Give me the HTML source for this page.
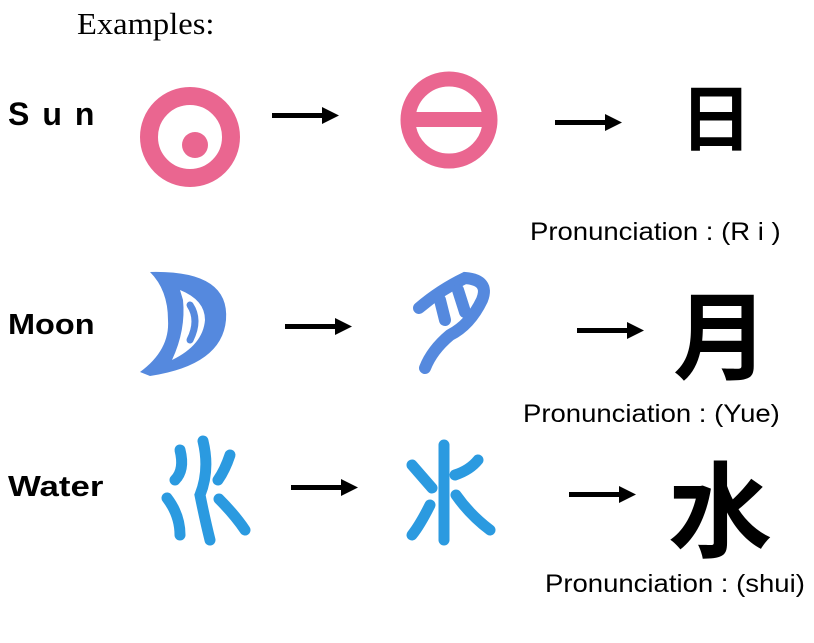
<!DOCTYPE html>
<html><head><meta charset="utf-8"><style>
html,body{margin:0;padding:0;background:#fff;}
body{width:814px;height:643px;position:relative;overflow:hidden;}
.t{position:absolute;white-space:nowrap;line-height:1;transform-origin:left top;}
.lab{font-family:"Liberation Sans",sans-serif;font-weight:bold;color:#000;}
.pr{font-family:"Liberation Sans",sans-serif;font-size:25px;color:#000;transform:scaleX(1.1);}
.cj{font-family:"Noto Sans CJK SC","Noto Serif CJK SC",sans-serif;font-weight:bold;color:#000;}
</style></head><body>
<div class="t" style="left:77px;top:8px;font-family:'Liberation Serif',serif;font-size:31px;transform:scaleX(1.05);">Examples:</div>
<div class="t lab" style="left:8px;top:98px;font-size:32px;letter-spacing:13px;">Sun</div>
<div class="t lab" style="left:8px;top:311px;font-size:29px;transform:scaleX(1.12);">Moon</div>
<div class="t lab" style="left:8px;top:473px;font-size:29px;transform:scaleX(1.2);">Water</div>
<svg width="814" height="643" style="position:absolute;left:0;top:0">
<g fill="none" stroke="#ea6690">
<circle cx="190" cy="137" r="41" stroke-width="18"/>
<circle cx="449" cy="120" r="41" stroke-width="15"/>
</g>
<circle cx="195" cy="145" r="13" fill="#ea6690"/>
<rect x="405" y="112" width="88" height="15" fill="#ea6690"/>
<path d="M150 272 Q230 270 226 320 Q222 365 150 376 L140 372 Q170 350 168 320 Q168 290 150 272 Z M180 290 Q205 300 205 320 Q203 345 172 360 Q186 330 183 300 Z" fill="#5589de" fill-rule="evenodd"/>
<path d="M190 305 Q200 320 190 340" stroke="#5589de" stroke-width="7" fill="none" stroke-linecap="round"/>
<g stroke="#5589de" stroke-width="12" fill="none" stroke-linecap="round">
<path d="M419 308 Q440 290 465 278 Q490 280 482 300 Q470 325 450 335 Q432 350 425 368"/>
<path d="M440 300 L445 320 M458 290 L465 312"/>
</g>
<g stroke="#2b9ae0" stroke-width="11" fill="none" stroke-linecap="round">
<path d="M203 441 Q210 470 200 495 Q205 520 210 540"/>
<path d="M180 450 Q185 470 175 480 M230 455 Q225 470 218 480"/>
<path d="M167 498 Q180 515 180 535 M219 499 Q235 515 245 530"/>
</g>
<g stroke="#2b9ae0" stroke-width="11" fill="none" stroke-linecap="round">
<path d="M444 445 L444 540"/>
<path d="M412 465 Q425 480 432 488 M478 460 Q470 470 455 475"/>
<path d="M430 505 Q420 525 412 535 M456 495 Q470 515 490 530"/>
</g>
<g fill="#000">
<rect x="272" y="113" width="52" height="5"/><polygon points="322,107 339,115.5 322,124"/>
<rect x="555" y="120" width="52" height="5"/><polygon points="605,114 622,122.5 605,131"/>
<rect x="285" y="324" width="52" height="5"/><polygon points="335,318 352,326.5 335,335"/>
<rect x="577" y="328" width="52" height="5"/><polygon points="627,322 644,330.5 627,339"/>
<rect x="291" y="485" width="52" height="5"/><polygon points="341,479 358,487.5 341,496"/>
<rect x="569" y="492" width="52" height="5"/><polygon points="619,486 636,494.5 619,503"/>
</g>
</svg>
<div class="t cj" style="left:680px;top:78px;font-size:72px;">日</div>
<div class="t cj" style="left:673px;top:283px;font-size:96px;">月</div>
<div class="t cj" style="left:668px;top:452px;font-size:104px;">水</div>
<div class="t pr" style="left:530px;top:220px;">Pronunciation : (R i )</div>
<div class="t pr" style="left:523px;top:402px;">Pronunciation : (Yue)</div>
<div class="t pr" style="left:545px;top:572px;">Pronunciation : (shui)</div>
</body></html>
